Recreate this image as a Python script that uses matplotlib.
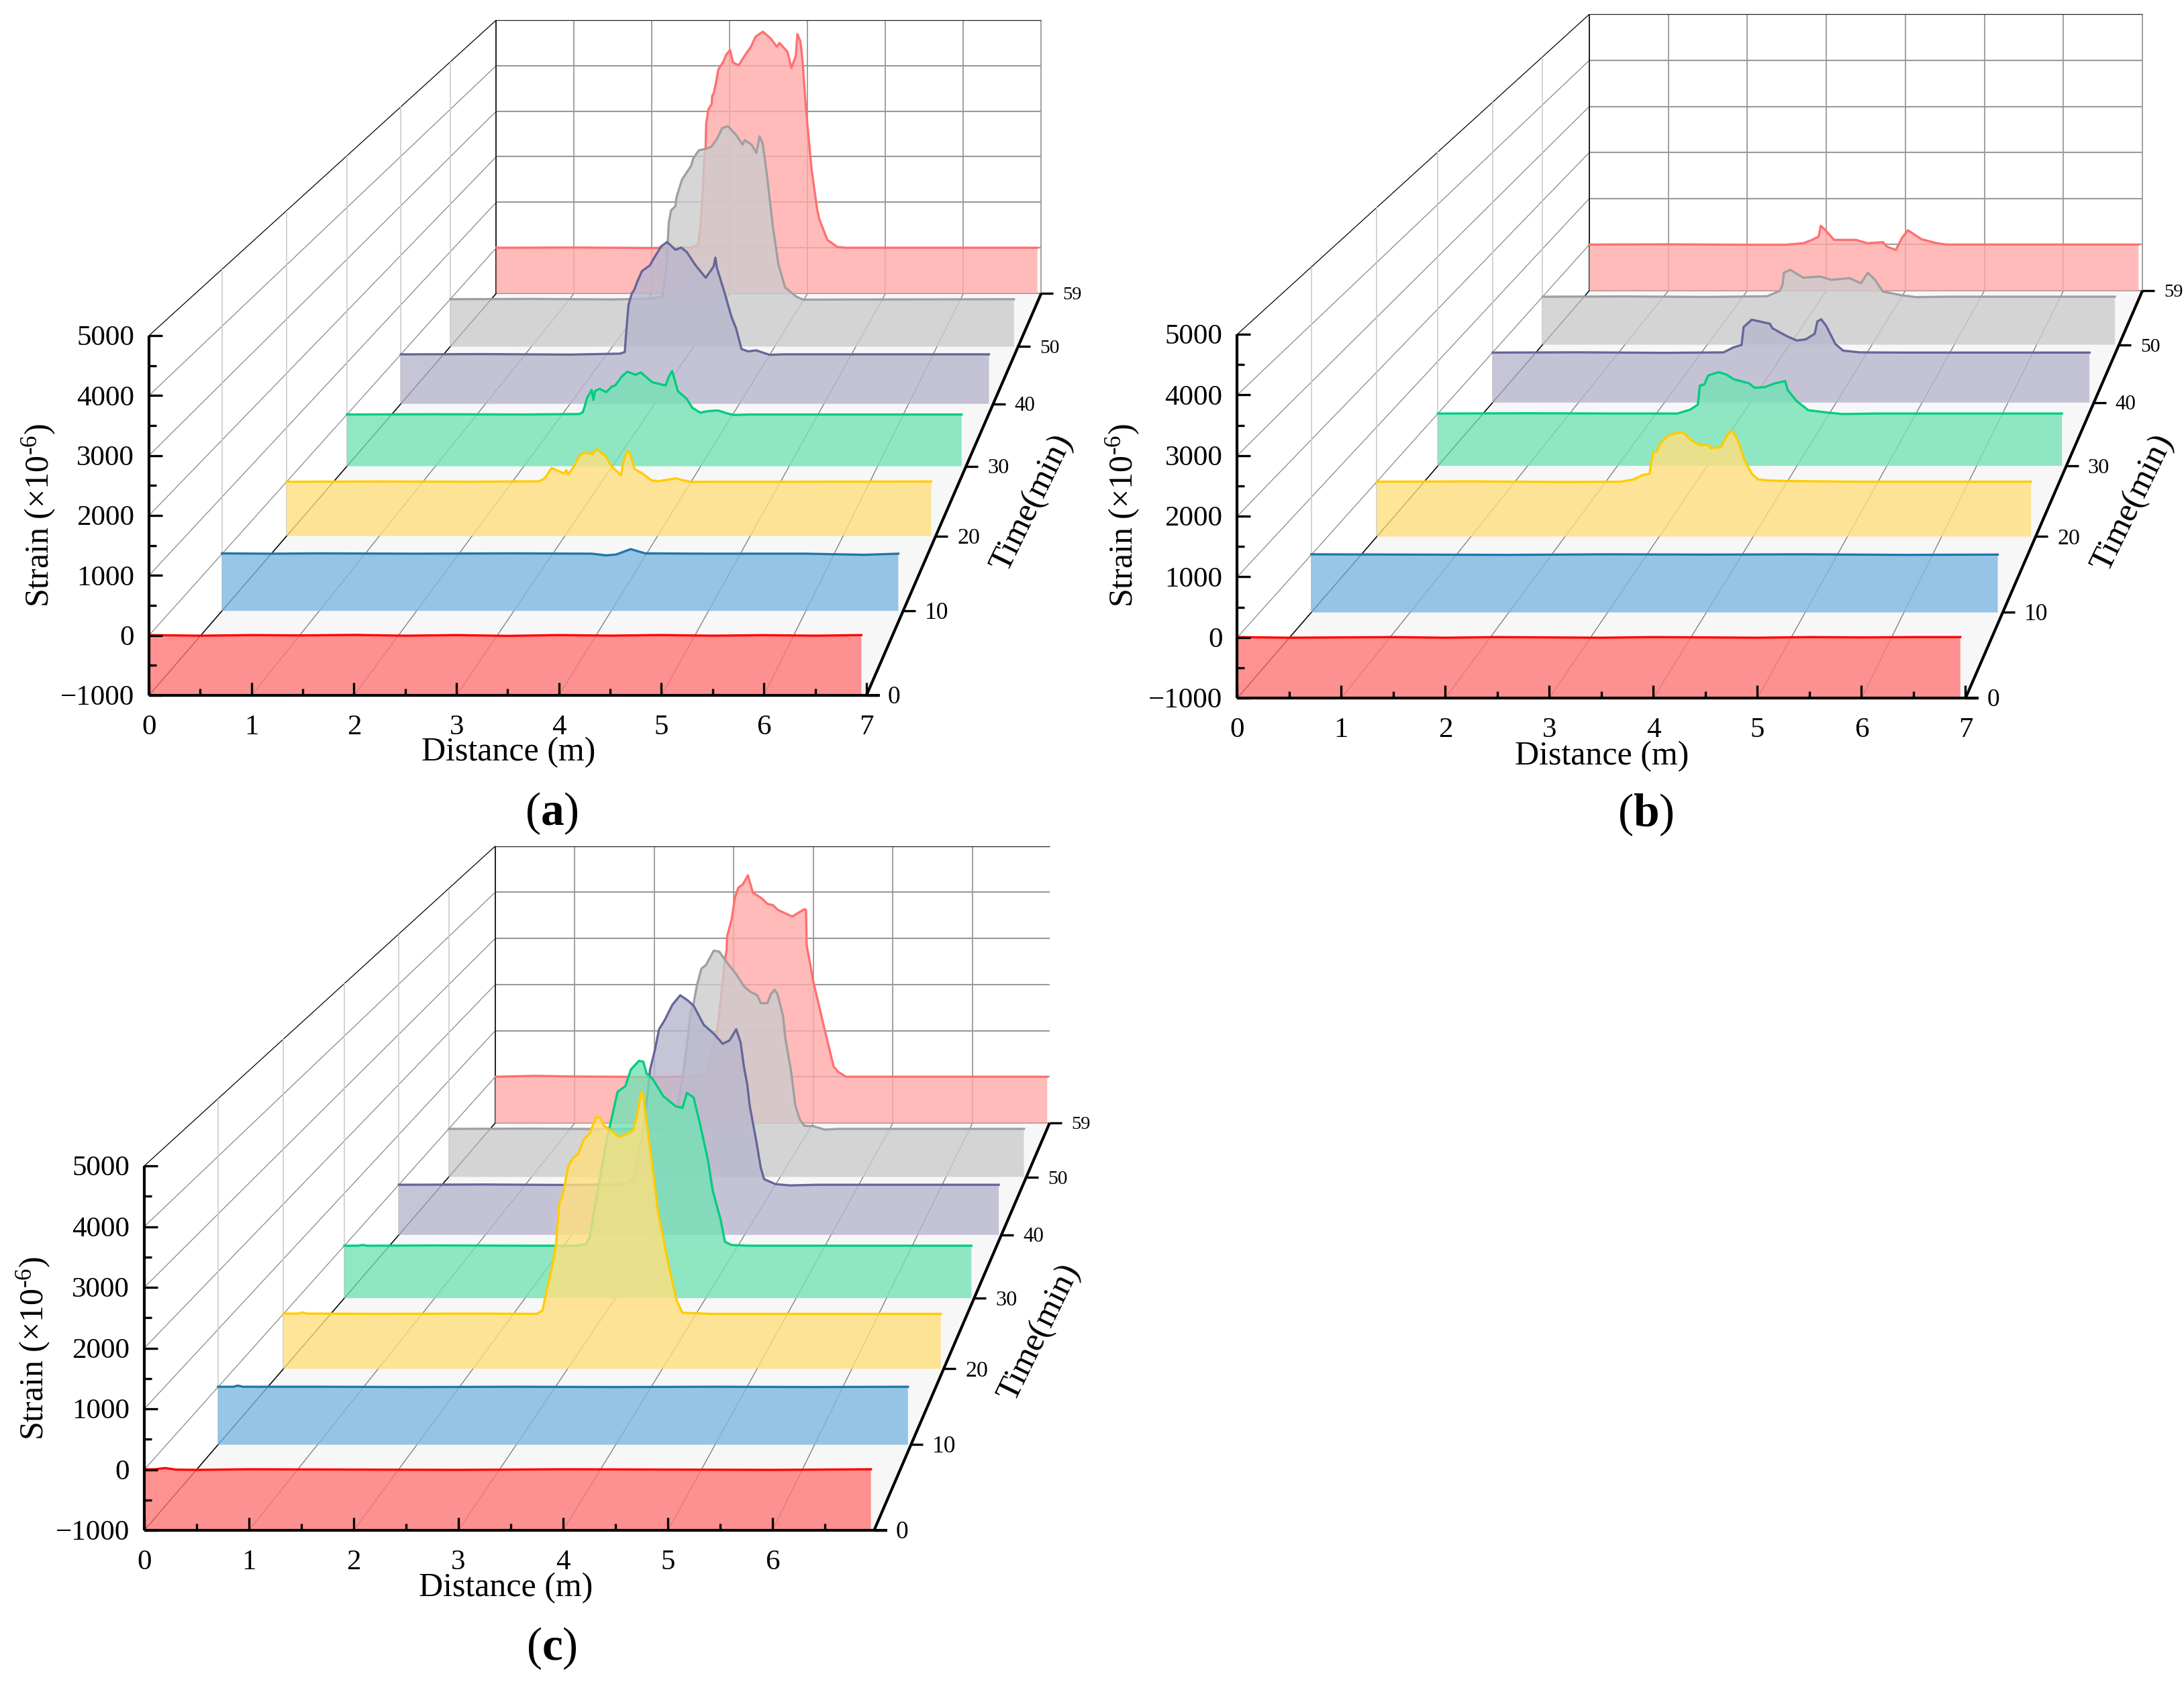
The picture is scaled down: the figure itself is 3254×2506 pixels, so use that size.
# coding: utf-8
import numpy as np
import matplotlib
matplotlib.use('Agg')
import matplotlib.pyplot as plt

plt.rcParams['font.family'] = ['Liberation Serif', 'DejaVu Sans']
plt.rcParams['mathtext.fontset'] = 'custom'
plt.rcParams['mathtext.rm'] = 'Liberation Serif'
plt.rcParams['mathtext.bf'] = 'Liberation Serif:bold'
plt.rcParams['mathtext.default'] = 'regular'

# time of each ribbon and how much the depth shrinks there
time_ticks = [0, 10, 20, 30, 40, 50, 59]
depth_scale = [1.0, 0.9495, 0.9047, 0.863, 0.8257, 0.7915, 0.7596]
strain_ticks = [-1000, 0, 1000, 2000, 3000, 4000, 5000]

line_colors = ['#ff0000', '#1f77a8', '#ffcc00', '#00cc80', '#666699', '#a0a0a0', '#ff7070']
fill_colors = ['#ff7676', '#7eb8e2', '#ffdf7d', '#75e2b5', '#b8b7ce', '#cccccc', '#ffa9a9']
fill_alpha = 0.8

# panel (a)
a0_d = [0, 0.5, 1, 1.5, 2, 2.5, 3, 3.5, 4, 4.5, 5, 5.5, 6, 6.5, 6.95]
a0_s = [5, -5, 5, 0, 8, -5, 5, -8, 5, -4, 6, -5, 4, -5, 5]
a10_d = [0, 0.5, 1, 2, 3, 3.8, 3.95, 4.05, 4.2, 4.35, 5, 6, 6.6, 6.95]
a10_s = [10, 5, 10, 5, 10, 5, -25, -10, 85, 10, 5, 5, -15, 5]
a20_d = [0, 1, 2, 2.4, 2.725, 2.786, 2.858, 2.918, 2.991, 3.015, 3.034, 3.087, 3.16, 3.208, 3.292, 3.346, 3.437, 3.498, 3.606, 3.63, 3.674, 3.703, 3.751, 3.836, 3.932, 4.005, 4.198, 4.27, 4.367, 4.56, 5.5, 6.95]
a20_s = [0, 5, 0, 5, 8, 70, 255, 206, 152, 214, 132, 255, 481, 535, 514, 597, 481, 296, 119, 358, 572, 523, 235, 152, 29, 8, 62, 29, -4, 0, 0, 5]
a30_d = [0, 1, 2, 2.628, 2.666, 2.691, 2.716, 2.767, 2.787, 2.805, 2.855, 2.931, 2.995, 3.033, 3.108, 3.172, 3.26, 3.323, 3.45, 3.602, 3.64, 3.677, 3.741, 3.842, 3.905, 3.994, 4.082, 4.196, 4.297, 4.373, 4.55, 6.95]
a30_s = [0, 5, 0, 9, 43, 173, 324, 475, 281, 453, 497, 432, 540, 561, 734, 829, 768, 812, 626, 561, 734, 842, 453, 302, 130, 35, 65, 78, 22, -9, 0, 0]
a40_d = [0, 1, 2, 2.586, 2.646, 2.665, 2.691, 2.731, 2.757, 2.797, 2.85, 2.942, 2.995, 3.075, 3.146, 3.246, 3.313, 3.379, 3.484, 3.603, 3.696, 3.717, 3.735, 3.828, 3.907, 3.96, 4.026, 4.105, 4.198, 4.357, 4.515, 6.95]
a40_s = [0, 5, -5, 14, 45, 487, 1005, 1232, 1299, 1480, 1683, 1795, 1953, 2179, 2269, 2111, 2156, 2066, 1795, 1547, 1773, 1953, 1750, 1232, 758, 532, 108, 59, 81, -9, 0, 0]
a50_d = [0, 1, 2, 2.448, 2.614, 2.639, 2.663, 2.694, 2.721, 2.776, 2.79, 2.832, 2.859, 2.914, 2.969, 2.997, 3.066, 3.135, 3.218, 3.287, 3.355, 3.424, 3.521, 3.604, 3.631, 3.714, 3.774, 3.813, 3.852, 3.907, 3.976, 4.045, 4.127, 4.265, 4.348, 6.95]
a50_s = [0, 5, -5, 10, 52, 362, 645, 1609, 1868, 1962, 2151, 2386, 2527, 2668, 2809, 2974, 3139, 3162, 3209, 3374, 3610, 3642, 3468, 3257, 3351, 3257, 3082, 3431, 3280, 2574, 1539, 739, 249, 56, -9, 0]
a59_d = [0, 1, 2, 2.334, 2.507, 2.594, 2.622, 2.651, 2.671, 2.689, 2.695, 2.723, 2.767, 2.772, 2.795, 2.824, 2.853, 2.911, 2.954, 3.003, 3.04, 3.112, 3.199, 3.271, 3.329, 3.424, 3.53, 3.602, 3.637, 3.741, 3.79, 3.847, 3.867, 3.905, 3.934, 3.977, 4.049, 4.121, 4.15, 4.251, 4.38, 4.496, 6.95]
a59_s = [0, 5, -5, 5, 5, 79, 448, 1236, 1975, 2222, 2714, 3034, 3158, 3330, 3404, 3650, 3921, 4069, 4241, 4340, 4069, 4005, 4241, 4414, 4635, 4744, 4586, 4414, 4497, 4300, 3946, 4217, 4694, 4537, 4094, 3059, 1729, 842, 621, 177, 15, 0, 0]

# panel (b)
b0_d = [0, 0.5, 1, 1.5, 2, 2.5, 3, 3.5, 4, 4.5, 5, 5.5, 6, 6.5, 6.95]
b0_s = [5, -5, 0, 5, -5, 5, 0, -5, 5, 0, -5, 5, 0, 5, 5]
b10_d = [0, 1, 2, 3, 4, 5, 6, 6.95]
b10_s = [10, 5, 0, 10, 5, 10, 0, 5]
b20_d = [0, 1, 2, 2.592, 2.728, 2.824, 2.897, 2.933, 2.974, 3.015, 3.11, 3.247, 3.342, 3.438, 3.52, 3.547, 3.656, 3.724, 3.779, 3.834, 3.902, 3.984, 4.052, 4.175, 4.393, 5.048, 6.95]
b20_s = [0, 5, -5, 0, 41, 122, 143, 530, 551, 714, 857, 906, 755, 665, 673, 612, 632, 857, 926, 755, 408, 143, 41, 20, 12, 0, 0]
b30_d = [0, 1, 2, 2.666, 2.809, 2.895, 2.918, 2.967, 3.01, 3.124, 3.21, 3.296, 3.467, 3.525, 3.639, 3.753, 3.868, 3.896, 3.997, 4.125, 4.326, 4.497, 4.898, 6.95]
b30_s = [0, 5, 0, 0, 73, 171, 535, 556, 727, 791, 748, 654, 577, 492, 505, 577, 620, 449, 235, 64, 21, -9, 0, 0]
b40_d = [0, 1, 2, 2.689, 2.809, 2.899, 2.923, 3.018, 3.228, 3.257, 3.422, 3.542, 3.646, 3.751, 3.781, 3.826, 3.885, 3.99, 4.08, 4.274, 4.783, 6.95]
b40_s = [0, 5, -5, 4, 107, 152, 510, 657, 576, 487, 331, 241, 264, 376, 621, 666, 532, 174, 40, 4, 0, 0]
b50_d = [0, 1, 2, 2.728, 2.884, 2.915, 2.93, 3.008, 3.164, 3.367, 3.507, 3.726, 3.866, 3.95, 4.038, 4.131, 4.381, 4.537, 4.905, 6.95]
b50_s = [0, 5, -5, 9, 126, 257, 499, 560, 396, 420, 350, 387, 280, 499, 350, 107, 23, -9, 0, 0]
b59_d = [0, 1, 2, 2.479, 2.707, 2.82, 2.902, 2.928, 2.983, 3.097, 3.26, 3.373, 3.52, 3.715, 3.764, 3.878, 3.959, 4.031, 4.203, 4.398, 4.522, 4.7, 6.95]
b59_s = [0, 5, -5, -5, 29, 102, 175, 408, 321, 102, 102, 102, 29, 53, -44, -117, 151, 311, 117, 29, 0, 0, 0]

# panel (c)
c0_d = [0, 0.1, 0.2, 0.3, 0.5, 1, 2, 3, 4, 5, 6, 6.94]
c0_s = [5, 5, 25, 0, -5, 5, 0, -5, 5, 0, -5, 5]
c10_d = [0, 0.15, 0.2, 0.25, 1, 2, 3, 4, 5, 6, 6.94]
c10_s = [5, 5, 25, 5, 5, 0, 5, 0, 5, 0, 5]
c20_d = [0, 0.15, 0.2, 0.25, 1, 2, 2.676, 2.735, 2.771, 2.83, 2.877, 2.912, 2.948, 3.007, 3.054, 3.113, 3.172, 3.231, 3.302, 3.349, 3.385, 3.456, 3.538, 3.621, 3.692, 3.739, 3.775, 3.798, 3.834, 3.881, 3.952, 4.023, 4.07, 4.152, 4.211, 4.518, 6.94]
c20_s = [5, 5, 25, 5, 0, 5, 0, 61, 366, 814, 1262, 2016, 2158, 2687, 2830, 2911, 3176, 3278, 3583, 3563, 3421, 3339, 3225, 3266, 3339, 3665, 4039, 3990, 3461, 2891, 1873, 1262, 855, 244, 20, 0, 0]
c30_d = [0, 0.15, 0.2, 0.25, 1, 2, 2.578, 2.677, 2.714, 2.801, 2.875, 2.912, 2.974, 3.024, 3.11, 3.172, 3.259, 3.308, 3.345, 3.407, 3.531, 3.667, 3.742, 3.791, 3.865, 3.94, 4.026, 4.076, 4.163, 4.212, 4.286, 4.485, 6.94]
c30_s = [0, 0, 15, 0, 5, 0, 0, 34, 162, 1016, 1741, 2083, 2552, 2937, 3043, 3363, 3525, 3512, 3286, 3192, 2851, 2659, 2629, 2915, 2830, 2296, 1613, 1058, 504, 77, 13, 0, 0]
c40_d = [0, 1, 2, 2.634, 2.712, 2.815, 2.88, 2.906, 2.958, 3.01, 3.074, 3.165, 3.255, 3.346, 3.411, 3.527, 3.644, 3.747, 3.825, 3.903, 3.954, 3.993, 4.032, 4.058, 4.135, 4.187, 4.226, 4.355, 4.524, 4.834, 6.94]
c40_s = [0, 5, -5, 13, 112, 959, 1851, 2297, 2654, 3100, 3278, 3590, 3778, 3670, 3568, 3189, 3011, 2811, 2877, 3100, 2833, 2342, 1985, 1583, 870, 335, 112, 13, -13, 0, 0]
c50_d = [0, 1, 2, 2.658, 2.739, 2.766, 2.82, 2.887, 2.914, 2.955, 2.995, 3.049, 3.103, 3.198, 3.265, 3.36, 3.468, 3.562, 3.643, 3.724, 3.765, 3.846, 3.886, 3.932, 3.967, 4.035, 4.062, 4.129, 4.183, 4.237, 4.291, 4.399, 4.534, 4.71, 6.94]
c50_s = [0, 5, -5, 0, 56, 521, 1033, 1926, 2382, 2615, 2987, 3336, 3406, 3708, 3685, 3453, 3220, 2964, 2848, 2778, 2615, 2615, 2801, 2894, 2801, 2336, 1871, 1219, 475, 195, 65, 56, -14, 0, 0]
c59_d = [0, 0.5, 1, 2, 2.324, 2.634, 2.676, 2.732, 2.789, 2.845, 2.887, 2.907, 2.915, 2.972, 3.014, 3.056, 3.113, 3.175, 3.239, 3.352, 3.423, 3.493, 3.549, 3.732, 3.887, 3.907, 3.915, 4.0, 4.127, 4.254, 4.31, 4.408, 6.94]
c59_s = [0, 20, 5, -5, 0, 49, 195, 634, 976, 1854, 2537, 2732, 3049, 3415, 3902, 4098, 4171, 4366, 3990, 3863, 3746, 3717, 3620, 3473, 3634, 3610, 2854, 2049, 1122, 220, 107, 0, 0]

panel_a = [(a0_d, a0_s), (a10_d, a10_s), (a20_d, a20_s), (a30_d, a30_s), (a40_d, a40_s), (a50_d, a50_s), (a59_d, a59_s)]
panel_b = [(b0_d, b0_s), (b10_d, b10_s), (b20_d, b20_s), (b30_d, b30_s), (b40_d, b40_s), (b50_d, b50_s), (b59_d, b59_s)]
panel_c = [(c0_d, c0_s), (c10_d, c10_s), (c20_d, c20_s), (c30_d, c30_s), (c40_d, c40_s), (c50_d, c50_s), (c59_d, c59_s)]

fig = plt.figure(figsize=(32.55, 25.06), dpi=100)
ax = fig.add_axes([0, 0, 1, 1])
ax.set_xlim(0, 3255)
ax.set_ylim(2506, 0)
ax.axis('off')


def draw_panel(series, x0, y0, ytop, per_m, back_x, back_y, dmax, tag, xlab, ylab, tlab, tag_pos):
    """Oblique box: front face at time 0, everything shrinks towards one vanishing point."""
    per_k = (y0 - ytop) / 6.0
    s_end = depth_scale[-1]
    xv = x0 + (back_x - x0) / (1 - s_end)
    yv = y0 - (y0 - back_y) / (1 - s_end)

    def proj(d, t, z):
        d, z = np.asarray(d, float), np.asarray(z, float)
        s = np.interp(t, time_ticks, depth_scale)
        return xv + (x0 + d * per_m - xv) * s, yv + (y0 - (z + 1000) / 1000 * per_k - yv) * s

    def seg(p, q, **kw):
        ax.plot([p[0], q[0]], [p[1], q[1]], solid_capstyle='butt', **kw)

    # floor
    corners = [proj(0, 0, -1000), proj(dmax, 0, -1000), proj(dmax, 59, -1000), proj(0, 59, -1000)]
    ax.fill([c[0] for c in corners], [c[1] for c in corners], color='#f7f7f7', lw=0, zorder=1)
    for d in range(0, 8):
        if d > dmax:
            continue
        seg(proj(d, 0, -1000), proj(d, 59, -1000), color='#777777', lw=0.9, zorder=2)
        seg(proj(d, 59, -1000), proj(d, 59, 5000), color='#999999', lw=1.3, zorder=2)
    for z in strain_ticks:
        seg(proj(0, 59, z), proj(dmax, 59, z), color='#222222' if z == 5000 else '#999999',
            lw=0.9 if z == 5000 else 1.5, zorder=2)
        seg(proj(0, 0, z), proj(0, 59, z), color='#000000' if z == 5000 else '#888888',
            lw=0.9, zorder=2)
    for t in time_ticks[1:-1]:
        seg(proj(0, t, -1000), proj(0, t, 5000), color='#cccccc', lw=1.2, zorder=2)
    seg(proj(0, 59, -1000), proj(0, 59, 5000), color='#000000', lw=1.1, zorder=2)
    seg(proj(0, 0, -1000), proj(0, 59, -1000), color='#000000', lw=1.0, zorder=2)

    # ribbons, back one first
    for i in range(6, -1, -1):
        d, val = series[i]
        t = time_ticks[i]
        x, y = proj(d, t, val)
        bx, by = proj([d[-1], d[0]], t, [-1000, -1000])
        ax.fill(np.r_[x, bx], np.r_[y, by], color=fill_colors[i], alpha=fill_alpha, lw=0, zorder=3 + (6 - i) * 0.1)
        ax.plot(x, y, color=line_colors[i], lw=2.4, solid_joinstyle='round', zorder=3.05 + (6 - i) * 0.1)

    # axes on top
    seg(proj(0, 0, -1000), proj(0, 0, 5000), color='k', lw=3, zorder=5)
    seg(proj(0, 0, -1000), (x0 + dmax * per_m + 20, y0), color='k', lw=3, zorder=5)
    seg(proj(dmax, 0, -1000), proj(dmax, 59, -1000), color='k', lw=3, zorder=5)
    for z in np.arange(-1000, 5001, 500):
        x, y = proj(0, 0, z)
        ln = 20 if z % 1000 == 0 else 11
        seg((x, y), (x + ln, y), color='k', lw=2.4, zorder=5)
        if z % 1000 == 0:
            ax.text(x - 22, y + 4, str(int(z)).replace('-', '\u2212'), ha='right', va='center', fontsize=31, zorder=6)
    for d in np.arange(0, 7.01, 0.5):
        if d > dmax:
            continue
        x, y = proj(d, 0, -1000)
        ln = 19 if d == int(d) else 10
        seg((x, y), (x, y - ln), color='k', lw=2.4, zorder=5)
        if d == int(d):
            ax.text(x, y + 48, str(int(d)), ha='center', va='center', fontsize=31, zorder=6)
    for t in time_ticks:
        x, y = proj(dmax, t, -1000)
        s = np.interp(t, time_ticks, depth_scale)
        seg((x, y), (x + 18, y), color='k', lw=2.4, zorder=5)
        ax.text(x + 32, y + 3, str(t), ha='left', va='center', fontsize=27 * s, zorder=6)

    ax.text(xlab[0], xlab[1] + 4, 'Distance (m)', ha='center', va='center', fontsize=36, zorder=6)
    ax.text(ylab[0], ylab[1], 'Strain (\u00d710$^{\\text{-}6}$)', ha='center', va='center', rotation=90, fontsize=36, zorder=6)
    ax.text(tlab[0], tlab[1], 'Time(min)', ha='center', va='center', rotation=64, fontsize=37, zorder=6)
    ax.text(tag_pos[0], tag_pos[1], '($\\mathbf{%s}$)' % tag, ha='center', va='center', fontsize=50, zorder=6)


draw_panel(panel_a, 222, 1036, 500, 152.7, 739.5, 437, 7.0, 'a', (758, 1117), (58, 768), (1538, 750), (822, 1212))
draw_panel(panel_b, 1843.5, 1040, 498, 155.0, 2368, 433, 7.0, 'b', (2387, 1123), (1673, 768), (3178, 750), (2452, 1214))
draw_panel(panel_c, 215, 2280, 1737, 156.0, 738, 1673, 6.97, 'c', (754, 2362), (50, 2009), (1549, 1986), (822, 2456))

fig.savefig('out.png', dpi=100)
